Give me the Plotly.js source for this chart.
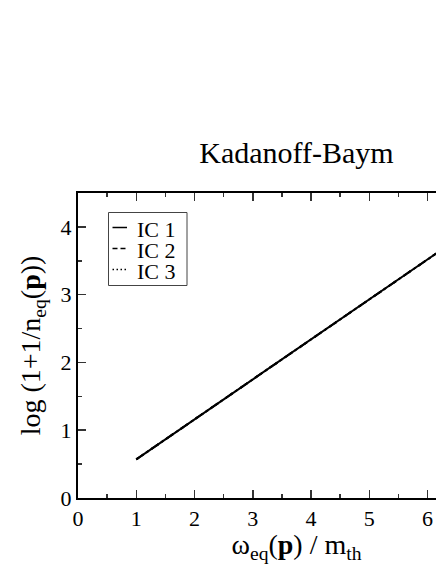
<!DOCTYPE html>
<html>
<head>
<meta charset="utf-8">
<script src="https://cdn.plot.ly/plotly-3.0.1.min.js"></script>
<style>
html,body{margin:0;padding:0;overflow:hidden;background:#fff;}
#chart{width:560px;height:564px;}
</style>
</head>
<body>
<div id="chart"></div>
<script>
// Data
const omega = [1, 2, 3, 4, 5, 6, 7];
const ic1 = [0.57, 1.16, 1.75, 2.34, 2.93, 3.52, 4.11];
const ic2 = [0.57, 1.16, 1.75, 2.34, 2.93, 3.52, 4.11];
const ic3 = [0.57, 1.16, 1.75, 2.34, 2.93, 3.52, 4.11];
const seriesNames = ["IC 1", "IC 2", "IC 3"];
const seriesDash = ["solid", "dash", "dot"];
const xTicks = [0, 1, 2, 3, 4, 5, 6, 7];
const yTicks = [0, 1, 2, 3, 4];

const serif = "Liberation Serif";

const W = 560, H = 564, ML = 78, MR = 45, MT = 193, MB = 66;
const PW = W - ML - MR, PH = H - MT - MB;
const px = v => (v - ML) / PW;          // pixel -> paper x
const py = v => (H - MB - v) / PH;      // pixel -> paper y

const series = [ic1, ic2, ic3];
const traces = series.map((s, i) => ({
  x: omega, y: s, name: seriesNames[i], mode: "lines", showlegend: false,
  line: {color: "#000", width: 2, dash: seriesDash[i]}
}));

// hand-made compact legend, like the reference
const shapes = [{type: "rect", xref: "paper", yref: "paper",
  x0: px(108.5), x1: px(187), y0: py(212.5), y1: py(285.5),
  line: {color: "#444", width: 1}, fillcolor: "#fff", layer: "above"}];
const annotations = [];
const rowY = [229.5, 250.5, 271.5];
const sampleDash = ["solid", "5px,3px", "1.5px,2.5px"];
seriesNames.forEach((n, i) => {
  shapes.push({type: "line", xref: "paper", yref: "paper",
    x0: px(112.5), x1: px(127), y0: py(rowY[i] - 2), y1: py(rowY[i] - 2),
    line: {color: "#000", width: 1.5, dash: sampleDash[i]}, layer: "above"});
  annotations.push({xref: "paper", yref: "paper", x: px(136), y: py(rowY[i]),
    xanchor: "left", yanchor: "middle", showarrow: false, text: n, borderpad: 0,
    font: {family: serif, size: 22, color: "#000"}});
});

const axisCommon = {
  showgrid: false, zeroline: false,
  showline: true, linecolor: "#000", linewidth: 2, mirror: "ticks",
  ticks: "inside", ticklen: 8, tickwidth: 1.5, tickcolor: "#333",
  tickfont: {family: serif, size: 22, color: "#000"},
  minor: {ticks: "inside", ticklen: 4, tickwidth: 1.5, tickcolor: "#333", dtick: 0.5, showgrid: false}
};

const layout = {
  width: W, height: H,
  margin: {l: ML, r: MR, t: MT, b: MB},
  paper_bgcolor: "#fff", plot_bgcolor: "#fff",
  font: {family: serif, color: "#000"},
  title: {text: "Kadanoff-Baym", font: {family: serif, size: 30, color: "#000"},
          xref: "paper", x: 0.5, xanchor: "center", yref: "paper", y: 1, yanchor: "bottom", pad: {b: 30}},
  xaxis: Object.assign({}, axisCommon, {
    range: [0, 7.5], tickvals: xTicks, ticktext: xTicks.map(String),
    title: {text: "ω<sub>eq</sub>(<b>p</b>) / m<sub>th</sub>", font: {family: serif, size: 28, color: "#000"}, standoff: 2}
  }),
  yaxis: Object.assign({}, axisCommon, {
    range: [0, 4.5], tickvals: yTicks, ticktext: yTicks.map(String),
    title: {text: "log (1+1/n<sub>eq</sub>(<b>p</b>))", font: {family: serif, size: 28, color: "#000"}, standoff: 12}
  }),
  shapes: shapes,
  annotations: annotations,
  showlegend: false
};

Plotly.newPlot("chart", traces, layout, {displayModeBar: false, staticPlot: true});
</script>
</body>
</html>
